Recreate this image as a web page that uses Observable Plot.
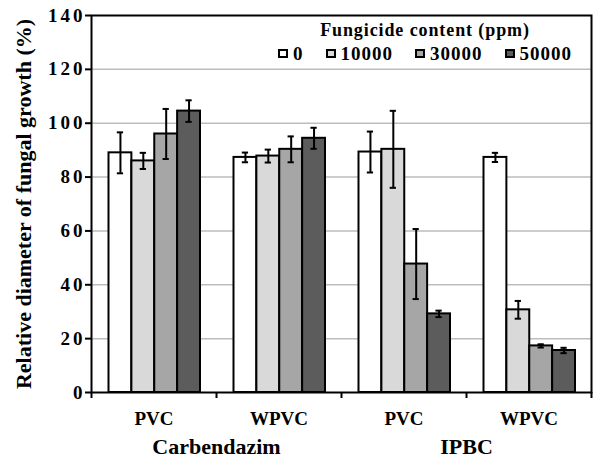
<!DOCTYPE html>
<html>
<head>
<meta charset="utf-8">
<script src="https://cdn.jsdelivr.net/npm/d3@7"></script>
<script src="https://cdn.jsdelivr.net/npm/@observablehq/plot@0.6"></script>
<style>
  body { margin: 0; background: #fff; }
  #wrap { position: relative; width: 593px; height: 458px; font-family: "Liberation Serif", "Times New Roman", serif; font-weight: bold; color: #000; }
  #legend { position: absolute; left: 266px; top: 21px; width: 318px; text-align: center; }
  #legend .title { font-size: 18px; line-height: 18px; letter-spacing: 0.9px; }
  #legend .items { margin-top: 5px; font-size: 19px; line-height: 19px; white-space: nowrap; }
  #legend .item { display: inline-block; margin: 0 11px; letter-spacing: 1px; }
  #legend .sw { display: inline-block; width: 10px; height: 9px; border: 2px solid #000; box-sizing: border-box; margin-right: 5px; vertical-align: 2px; }
  [aria-label="y-axis tick label"] text { letter-spacing: 3px; }
</style>
</head>
<body>
<div id="wrap"></div>
<script>
// ---- data ----
const groups = ["PVC", "WPVC", "PVC", "WPVC"];
const fungicides = ["Carbendazim", "IPBC"];
const concentrations = ["0", "10000", "30000", "50000"];
const colors = ["#ffffff", "#d9d9d9", "#a6a6a6", "#5c5c5c"];
const yTicks = [0, 20, 40, 60, 80, 100, 120, 140];
const yLabel = "Relative diameter of fungal growth (%)";
const legendTitle = "Fungicide content (ppm)";

// mean values per concentration, across groups (Carb PVC, Carb WPVC, IPBC PVC, IPBC WPVC)
const series0     = [89.0, 87.3, 89.3, 87.3];
const series10000 = [86.0, 87.8, 90.3, 30.7];
const series30000 = [96.0, 90.3, 47.7, 17.3];
const series50000 = [104.5, 94.4, 29.2, 15.6];
// error bar half-lengths
const err0     = [7.6, 1.8, 7.6, 1.7];
const err10000 = [3.0, 2.4, 14.3, 3.3];
const err30000 = [9.3, 4.8, 13.0, 0.6];
const err50000 = [4.0, 3.9, 1.2, 1.0];

const seriesAll = [series0, series10000, series30000, series50000];
const errAll = [err0, err10000, err30000, err50000];

// layout fractions within a group (one x unit per group)
const padFrac = 0.14, barFrac = 0.183, capHalf = 0.025;

const rows = [];
concentrations.forEach((c, j) => {
  groups.forEach((g, i) => {
    rows.push({gi: i, ci: j, conc: c, value: seriesAll[j][i], err: errAll[j][i]});
  });
});
const x1 = d => d.gi + padFrac + d.ci * barFrac;
const x2 = d => x1(d) + barFrac;
const xc = d => x1(d) + barFrac / 2;

const font = '"Liberation Serif", "Times New Roman", serif';

const plot = Plot.plot({
  width: 593,
  height: 458,
  marginLeft: 91,
  marginRight: 2,
  marginTop: 15,
  marginBottom: 66,
  style: {fontFamily: font, fontWeight: "bold", fontSize: "19px", color: "#000", background: "transparent", overflow: "visible"},
  x: {domain: [0, groups.length]},
  y: {domain: [0, 140]},
  color: {domain: concentrations, range: colors},
  marks: [
    Plot.ruleY(yTicks.filter(t => t > 0 && t < 140), {stroke: "#bdbdbd", strokeWidth: 1.5}),
    Plot.rectY(rows, {x1, x2, y1: 0, y2: "value", fill: "conc", stroke: "#000", strokeWidth: 2}),
    Plot.ruleX(rows, {x: xc, y1: d => d.value - d.err, y2: d => d.value + d.err, stroke: "#000", strokeWidth: 2}),
    Plot.ruleY(rows, {x1: d => xc(d) - capHalf, x2: d => xc(d) + capHalf, y: d => d.value + d.err, stroke: "#000", strokeWidth: 2}),
    Plot.ruleY(rows, {x1: d => xc(d) - capHalf, x2: d => xc(d) + capHalf, y: d => d.value - d.err, stroke: "#000", strokeWidth: 2}),
    Plot.frame({stroke: "#000", strokeWidth: 2}),
    Plot.axisY({ticks: yTicks, tickSize: 6, tickPadding: 0, tickFormat: d => String(d), label: null, stroke: "#000", strokeWidth: 2, fontSize: 19, fontWeight: "bold"}),
    Plot.axisX({ticks: d3.range(0, groups.length + 1), tickSize: 6, tickFormat: () => "", label: null, stroke: "#000", strokeWidth: 2}),
    Plot.axisX({ticks: groups.map((_, i) => i + 0.5), tickSize: 0, tickPadding: 19, tickFormat: d => groups[Math.floor(d)], label: null, fontSize: 19, fontWeight: "bold"}),
    Plot.text(fungicides, {x: (d, i) => 2 * i + 1, text: d => d, frameAnchor: "bottom", dy: 61, lineAnchor: "bottom", fontSize: 22, fontWeight: "bold"}),
    Plot.text([yLabel], {text: d => d, frameAnchor: "left", dx: -68, rotate: -90, lineAnchor: "middle", textAnchor: "middle", fontSize: 22, fontWeight: "bold"})
  ]
});

const wrap = document.getElementById("wrap");
wrap.appendChild(plot);

// legend (HTML overlay)
const legend = document.createElement("div");
legend.id = "legend";
const t = document.createElement("div");
t.className = "title";
t.textContent = legendTitle;
legend.appendChild(t);
const items = document.createElement("div");
items.className = "items";
concentrations.forEach((c, j) => {
  const it = document.createElement("span");
  it.className = "item";
  const sw = document.createElement("span");
  sw.className = "sw";
  sw.style.background = colors[j];
  it.appendChild(sw);
  it.appendChild(document.createTextNode(c));
  items.appendChild(it);
});
legend.appendChild(items);
wrap.appendChild(legend);
</script>
</body>
</html>
